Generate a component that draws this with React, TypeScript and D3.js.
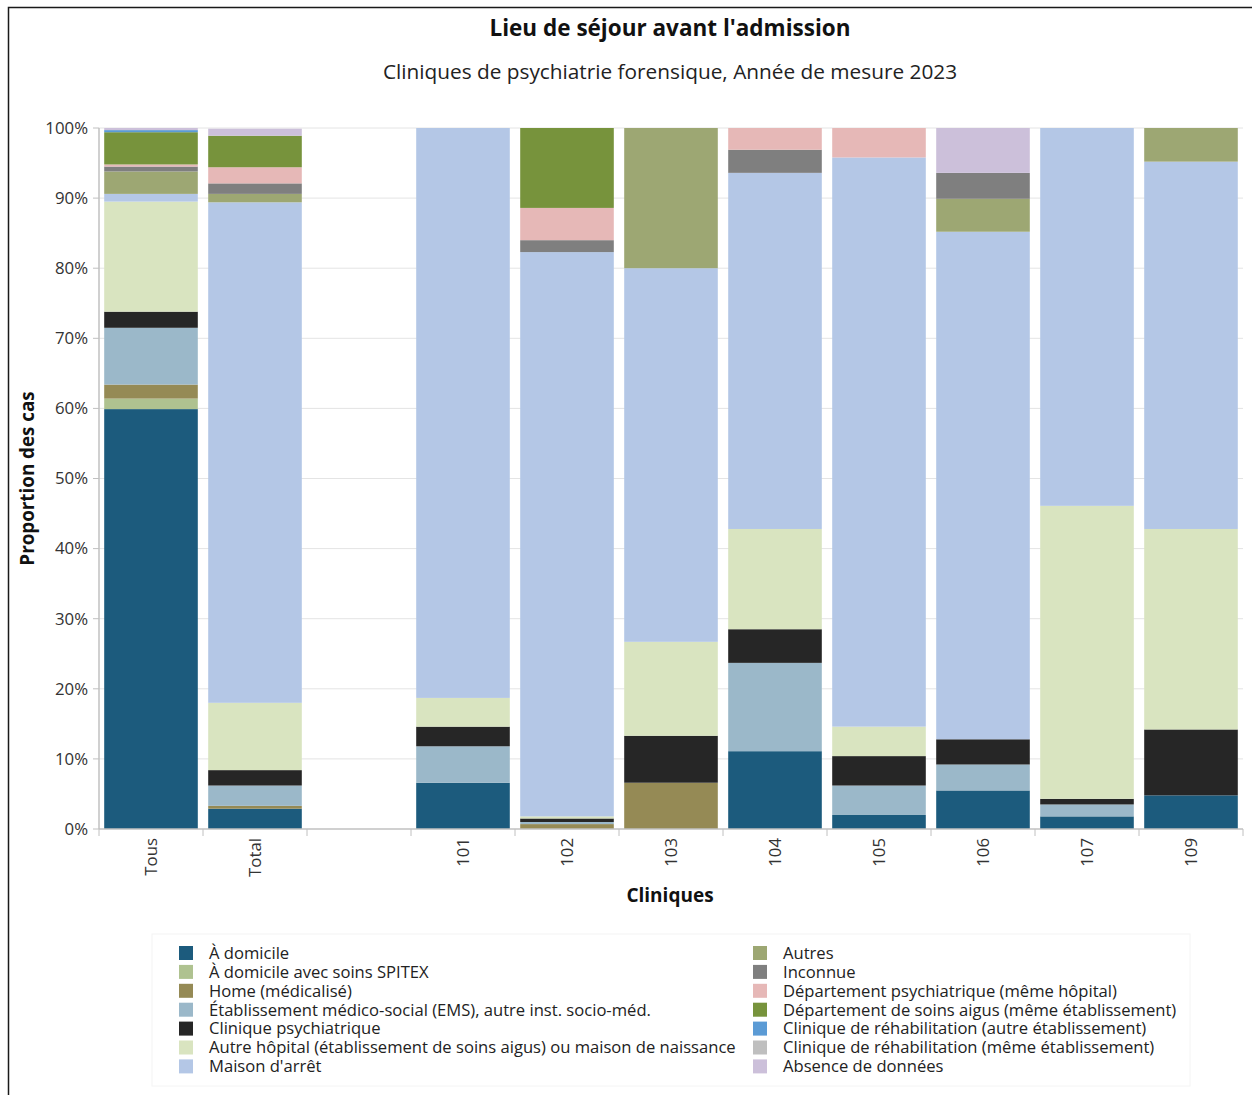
import React from "react";
import * as d3 from "d3";

const categories = ["Tous", "Total", "", "101", "102", "103", "104", "105", "106", "107", "109"];

const seriesNames = [
  "À domicile",
  "À domicile avec soins SPITEX",
  "Home (médicalisé)",
  "Établissement médico-social (EMS), autre inst. socio-méd.",
  "Clinique psychiatrique",
  "Autre hôpital (établissement de soins aigus) ou maison de naissance",
  "Maison d'arrêt",
  "Autres",
  "Inconnue",
  "Département psychiatrique (même hôpital)",
  "Département de soins aigus (même établissement)",
  "Clinique de réhabilitation (autre établissement)",
  "Clinique de réhabilitation (même établissement)",
  "Absence de données",
];

const seriesColors = [
  "#1c5b7d",
  "#afc290",
  "#958a55",
  "#9bb8c9",
  "#262626",
  "#d9e4c0",
  "#b4c7e6",
  "#9da773",
  "#7f7f7f",
  "#e6b8b7",
  "#77933c",
  "#5b9bd5",
  "#bfbfbf",
  "#ccc0da",
];

// values in % per category (Tous, Total, blank, 101, 102, 103, 104, 105, 106, 107, 109)
const aDomicile = [59.9, 2.9, 0, 6.6, 0, 0, 11.1, 2.0, 5.5, 1.8, 4.8];
const spitex = [1.5, 0, 0, 0, 0, 0, 0, 0, 0, 0, 0];
const homeMed = [2.0, 0.4, 0, 0, 0.7, 6.6, 0, 0, 0, 0, 0];
const ems = [8.1, 2.9, 0, 5.2, 0.3, 0, 12.6, 4.2, 3.7, 1.7, 0];
const cliniquePsy = [2.3, 2.2, 0, 2.8, 0.5, 6.7, 4.8, 4.2, 3.6, 0.8, 9.4];
const autreHopital = [15.7, 9.6, 0, 4.1, 0.3, 13.4, 14.3, 4.2, 0, 41.8, 28.6];
const maisonArret = [1.1, 71.4, 0, 81.3, 80.5, 53.3, 50.8, 81.2, 72.4, 53.9, 52.4];
const autres = [3.2, 1.2, 0, 0, 0, 20.0, 0, 0, 4.7, 0, 4.8];
const inconnue = [0.7, 1.5, 0, 0, 1.7, 0, 3.3, 0, 3.7, 0, 0];
const deptPsy = [0.3, 2.3, 0, 0, 4.6, 0, 3.1, 4.2, 0, 0, 0];
const soinsAigus = [4.6, 4.5, 0, 0, 11.4, 0, 0, 0, 0, 0, 0];
const rehabAutre = [0.3, 0, 0, 0, 0, 0, 0, 0, 0, 0, 0];
const rehabMeme = [0, 0, 0, 0, 0, 0, 0, 0, 0, 0, 0];
const absence = [0.3, 1.0, 0, 0, 0, 0, 0, 0, 6.4, 0, 0];

const seriesValues = [
  aDomicile, spitex, homeMed, ems, cliniquePsy, autreHopital, maisonArret,
  autres, inconnue, deptPsy, soinsAigus, rehabAutre, rehabMeme, absence,
];

const yTicks = [0, 10, 20, 30, 40, 50, 60, 70, 80, 90, 100];

const FONT = "'Open Sans', 'Noto Sans', sans-serif";

export default function App() {
  const W = 1252;
  const H = 1095;
  const left = 99;
  const right = 1243;
  const top = 128;
  const bottom = 829;

  const x = d3.scaleBand<string>().domain(categories).range([left, right]).paddingInner(0.1).paddingOuter(0.05);
  const xStep = x.step();
  const y = d3.scaleLinear().domain([0, 100]).range([bottom, top]);

  const rows = categories.map((c, i) => {
    const r: any = { cat: c };
    seriesNames.forEach((s, k) => (r[s] = seriesValues[k][i]));
    return r;
  });
  const stacked = d3.stack<any>().keys(seriesNames)(rows);

  const boundaries = d3.range(categories.length + 1).map((i) => left + i * xStep);

  const legendRowH = 18.9;
  const col1X = 179;
  const col2X = 753;
  const legendY0 = 945;

  return (
    <div style={{ position: "absolute", left: 0, top: 0, width: W, height: H, overflow: "hidden" }}>
      <svg width={W} height={H} style={{ display: "block", fontFamily: FONT }}>
        <rect x={0} y={0} width={W} height={H} fill="#fff" />
        <path d={`M8.5,${H} V7.5 H${W}`} fill="none" stroke="#1a1a1a" strokeWidth={1.5} />

        <text x={670} y={36} textAnchor="middle" fontSize={22.5} fontWeight={700} fill="#111">
          Lieu de séjour avant l'admission
        </text>
        <text x={670} y={79} textAnchor="middle" fontSize={20.8} fill="#222">
          Cliniques de psychiatrie forensique, Année de mesure 2023
        </text>

        {yTicks.map((t) => (
          <g key={t}>
            {t > 0 && <line x1={left} x2={right} y1={y(t)} y2={y(t)} stroke="#e4e4e4" strokeWidth={1} />}
            <line x1={left - 6} x2={left} y1={y(t)} y2={y(t)} stroke="#c0c0c0" strokeWidth={1} />
            <text x={left - 11} y={y(t)} dy="0.35em" textAnchor="end" fontSize={16.8} fill="#333">
              {t}%
            </text>
          </g>
        ))}

        {stacked.map((layer, k) => (
          <g key={layer.key} fill={seriesColors[k]}>
            {layer.map((d, i) =>
              d[1] - d[0] > 0 ? (
                <rect
                  key={i}
                  x={x(categories[i])}
                  width={x.bandwidth()}
                  y={y(d[1])}
                  height={y(d[0]) - y(d[1])}
                />
              ) : null
            )}
          </g>
        ))}

        <line x1={left} x2={left} y1={top} y2={bottom} stroke="#c0c0c0" strokeWidth={1.5} />
        <line x1={left} x2={right} y1={bottom} y2={bottom} stroke="#c0c0c0" strokeWidth={1.5} />
        {boundaries.map((bx, i) => (
          <line key={i} x1={bx} x2={bx} y1={bottom} y2={bottom + 7} stroke="#c0c0c0" strokeWidth={1} />
        ))}

        {categories.map((c, i) => (
          <text
            key={i}
            transform={`translate(${(x(c) as number) + x.bandwidth() / 2},${bottom + 9}) rotate(-90)`}
            textAnchor="end"
            dy="0.35em"
            fontSize={16.8}
            fill="#333"
          >
            {c}
          </text>
        ))}

        <text x={670} y={902} textAnchor="middle" fontSize={19} fontWeight={700} fill="#111">
          Cliniques
        </text>
        <text
          transform={`translate(34,${(top + bottom) / 2}) rotate(-90)`}
          textAnchor="middle"
          fontSize={18.8}
          fontWeight={700}
          fill="#111"
        >
          Proportion des cas
        </text>

        <rect x={152} y={934} width={1038} height={152} fill="none" stroke="#f4f4f4" strokeWidth={1} />
        {seriesNames.map((s, k) => {
          const col = k < 7 ? 0 : 1;
          const row = k % 7;
          const lx = col === 0 ? col1X : col2X;
          const ly = legendY0 + row * legendRowH;
          return (
            <g key={s}>
              <rect x={lx} y={ly + 1} width={14} height={14} fill={seriesColors[k]} />
              <text x={lx + 30} y={ly + 8} dy="0.35em" fontSize={16.6} fill="#222">
                {s}
              </text>
            </g>
          );
        })}
      </svg>
    </div>
  );
}
